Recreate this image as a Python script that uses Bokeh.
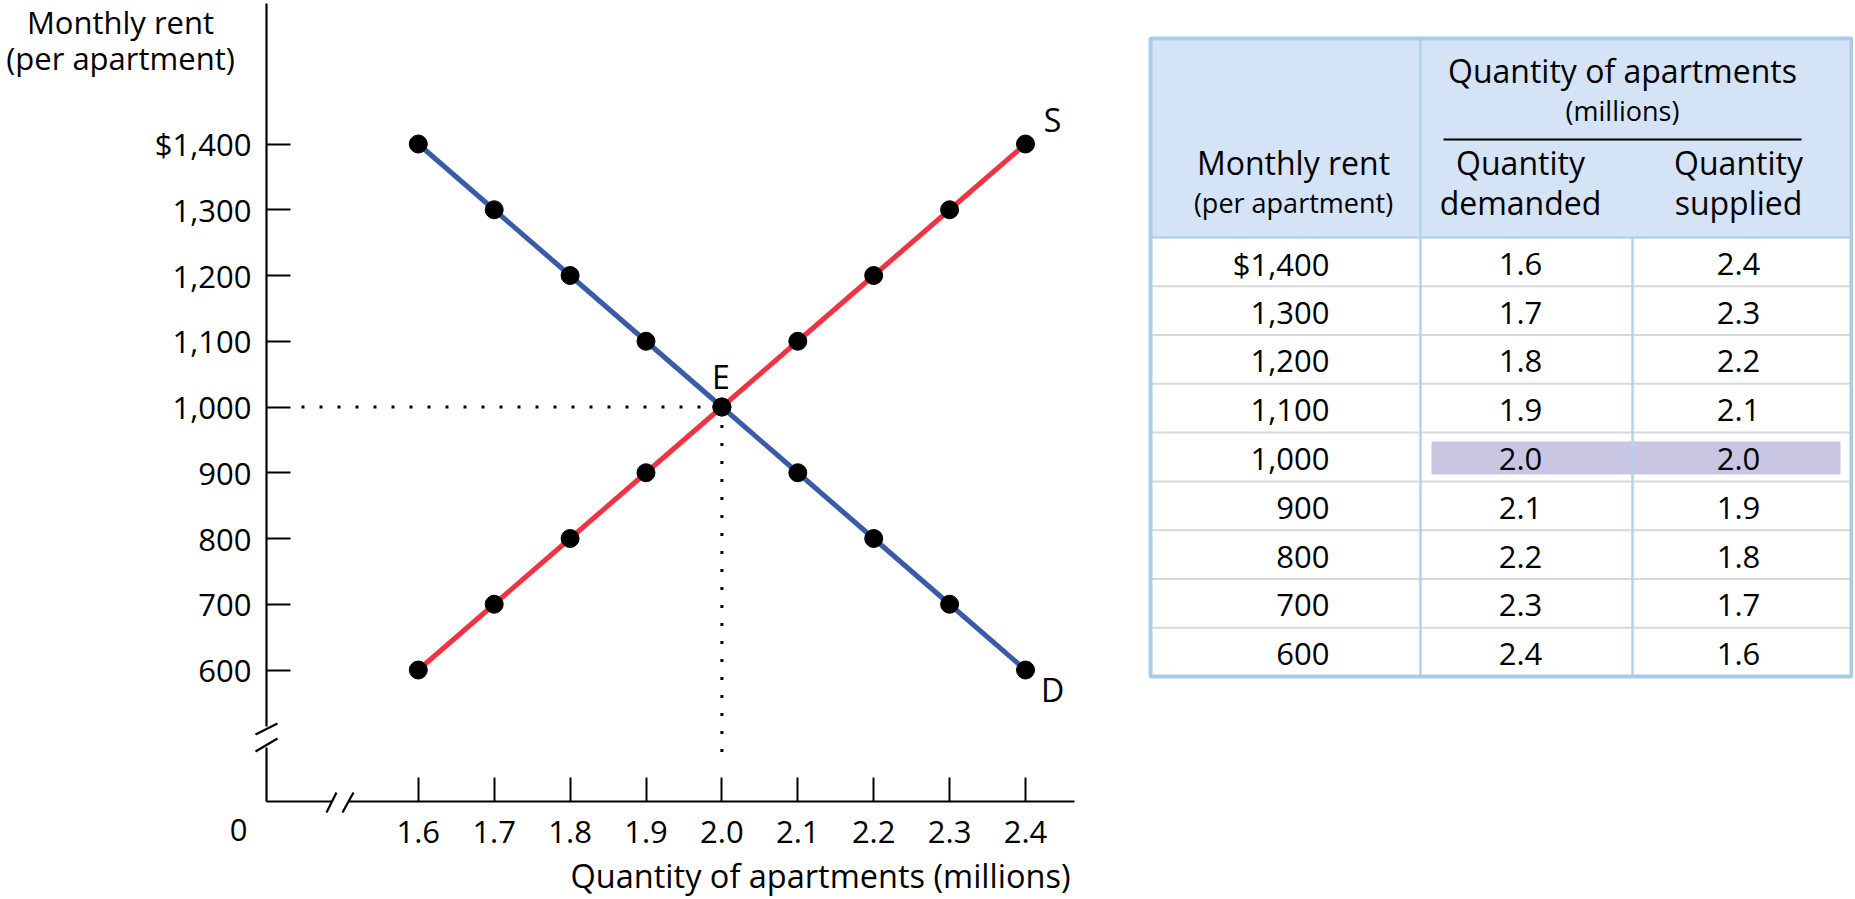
from bokeh.plotting import figure
from bokeh.models import Range1d, FixedTicker, PrintfTickFormatter, Label
from bokeh.layouts import row
from bokeh.embed import file_html
from bokeh.resources import INLINE
from bokeh.core.properties import value

# ---------------- data ----------------
rent = [1400, 1300, 1200, 1100, 1000, 900, 800, 700, 600]
rent_labels = ["$1,400", "1,300", "1,200", "1,100", "1,000", "900", "800", "700", "600"]
qty_demanded = [1.6, 1.7, 1.8, 1.9, 2.0, 2.1, 2.2, 2.3, 2.4]
qty_supplied = [2.4, 2.3, 2.2, 2.1, 2.0, 1.9, 1.8, 1.7, 1.6]
x_ticks = [1.6, 1.7, 1.8, 1.9, 2.0, 2.1, 2.2, 2.3, 2.4]
eq_qty = 2.0
eq_rent = 1000

FONT = "Open Sans"
BLUE = "#3A5BA8"
RED = "#EE3342"

# ---------------- chart ----------------
W1, H = 1108, 898
X0, XPX = 1.4, 759.0     # value at the vertical axis, px per unit
Y0, YPX = 400, 0.6575    # value at the horizontal axis, px per unit
AX, AY = 266, 801        # axis positions in picture pixels
XR = 1074                # right end of the horizontal axis
YT = 3                   # top end of the vertical axis


def dx(px):
    return X0 + (px - AX) / XPX


def dy(py):
    return Y0 + (AY - py) / YPX


p = figure(width=W1, height=H,
           x_range=Range1d(dx(0), dx(W1)), y_range=Range1d(dy(H), dy(0)),
           output_backend="svg", toolbar_location=None, min_border=0)
p.title.visible = False
p.xgrid.visible = False
p.ygrid.visible = False
p.outline_line_color = None
p.background_fill_color = "white"
p.border_fill_color = "white"

p.xaxis.ticker = FixedTicker(ticks=x_ticks)
p.xaxis.formatter = PrintfTickFormatter(format="%.1f")
p.yaxis.ticker = FixedTicker(ticks=rent)
p.yaxis.major_label_overrides = {r: l for r, l in zip(rent, rent_labels)}
p.xaxis.fixed_location = Y0
p.yaxis.fixed_location = X0
p.xaxis.bounds = (X0, dx(XR))
p.yaxis.bounds = (Y0, dy(YT))
for ax in p.axis:
    ax.axis_line_color = None
    ax.major_tick_in = 24
    ax.major_tick_out = 0
    ax.major_tick_line_width = 2
    ax.major_tick_line_color = "black"
    ax.minor_tick_line_color = None
    ax.major_label_text_font = FONT
    ax.major_label_text_font_size = "31px"
    ax.major_label_text_color = "black"
p.yaxis.major_label_standoff = 15
p.xaxis.major_label_standoff = 19

# axis lines with break marks
segs = [
    ((X0, dy(YT)), (X0, dy(726))),
    ((X0, dy(747)), (X0, Y0)),
    ((X0, Y0), (dx(331), Y0)),
    ((dx(347.5), Y0), (dx(XR), Y0)),
    ((dx(255), dy(734)), (dx(277), dy(723))),
    ((dx(255), dy(751)), (dx(277), dy(738))),
    ((dx(326), dy(812)), (dx(336), dy(792))),
    ((dx(342), dy(812)), (dx(353), dy(792))),
]
p.segment(x0=[s[0][0] for s in segs], y0=[s[0][1] for s in segs],
          x1=[s[1][0] for s in segs], y1=[s[1][1] for s in segs],
          line_color="black", line_width=2.2)

# dotted guides to equilibrium
p.line([dx(301), eq_qty], [eq_rent, eq_rent], line_color="black", line_width=3, line_dash="3 15")
p.line([eq_qty, eq_qty], [eq_rent, dy(762)], line_color="black", line_width=3, line_dash="3 15")

# supply and demand
p.line(qty_supplied, rent, line_color=RED, line_width=5)
p.line(qty_demanded, rent, line_color=BLUE, line_width=5)
p.scatter(qty_supplied, rent, size=18, fill_color="black", line_color="black")
p.scatter(qty_demanded, rent, size=18, fill_color="black", line_color="black")


def lab(x, y, text, size="31px", align="center", baseline="middle", xo=0, yo=0):
    p.add_layout(Label(x=x, y=y, text=text, text_font=FONT, text_font_size=size,
                       text_align=align, text_baseline=baseline, text_color="black",
                       x_offset=xo, y_offset=yo))


lab(eq_qty, eq_rent, "E", size="32px", xo=-1, yo=31)
lab(qty_supplied[0], rent[0], "S", size="32px", xo=27, yo=25)
lab(qty_demanded[-1], rent[-1], "D", size="32px", xo=27, yo=-19)
lab(dx(238), dy(829), "0")
lab(dx(1070), dy(875), "Quantity of apartments (millions)", size="32.5px", align="right")
lab(dx(120), dy(21), "Monthly rent")
lab(dx(120), dy(57), "(per apartment)")

# ---------------- table ----------------
W2 = 745
t = figure(width=W2, height=H, x_range=Range1d(W1, W1 + W2), y_range=Range1d(H, 0),
           output_backend="svg", toolbar_location=None, min_border=0,
           x_axis_location=None, y_axis_location=None)
t.title.visible = False
t.xgrid.visible = False
t.ygrid.visible = False
t.outline_line_color = None

TL, TR, TT, TB = 1150, 1851, 38, 676
HB = 237
C1, C2 = 1420, 1632
rh = (TB - HB) / len(rent)
LIGHT = "#B3D3EA"

t.quad(left=TL, right=TR, top=TT, bottom=HB, fill_color="#D4E3F5", line_color=None)
ei = rent.index(eq_rent)
t.quad(left=1431, right=1840, top=HB + ei * rh + 9, bottom=HB + ei * rh + 42,
       fill_color="#C9C6E2", line_color=None)
seps = [HB + k * rh for k in range(1, len(rent))]
t.segment(x0=[TL] * len(seps), x1=[TR] * len(seps), y0=seps, y1=seps,
          line_color="#D8D8D8", line_width=2)
t.segment(x0=[TL], x1=[TR], y0=[HB], y1=[HB], line_color=LIGHT, line_width=2.5)
t.segment(x0=[C1, C2], x1=[C1, C2], y0=[TT, HB], y1=[TB, TB], line_color=LIGHT, line_width=2.5)
t.quad(left=TL, right=TR, top=TT, bottom=TB, fill_color=None, line_color="#A8CCE6", line_width=4)
t.segment(x0=[1443], x1=[1801], y0=[139], y1=[139], line_color="black", line_width=2)


def ttext(xs, ys, texts, size="31px", align="center"):
    t.text(x=xs, y=ys, text=texts, text_font=value(FONT), text_font_size=size,
           text_align=align, text_baseline="middle", text_color="black")


ttext([1622], [70], ["Quantity of apartments"], size="32px")
ttext([1622], [110], ["(millions)"], size="27px")
ttext([1293, 1520, 1738], [162, 162, 162], ["Monthly rent", "Quantity", "Quantity"], size="32px")
ttext([1293], [202], ["(per apartment)"], size="27px")
ttext([1520, 1738], [202, 202], ["demanded", "supplied"], size="32px")

row_y = [HB + (i + 0.5) * rh + 2 for i in range(len(rent))]
ttext([1329] * len(rent), row_y, rent_labels, align="right")
ttext([1520] * len(rent), row_y, ["%.1f" % q for q in qty_demanded])
ttext([1738] * len(rent), row_y, ["%.1f" % q for q in qty_supplied])

layout = row(p, t)
open("out.html", "w").write(file_html(layout, INLINE))
